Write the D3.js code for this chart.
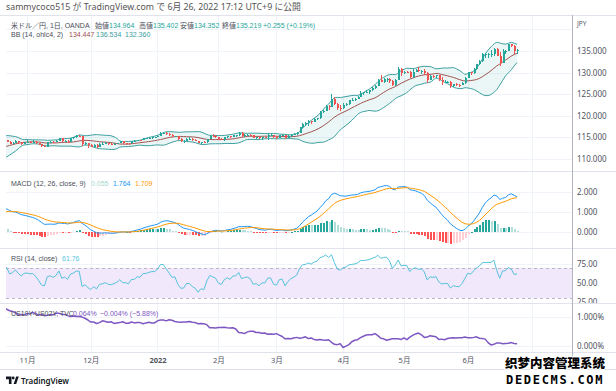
<!DOCTYPE html>
<html><head><meta charset="utf-8">
<script src="https://cdn.jsdelivr.net/npm/d3@7/dist/d3.min.js"></script>
<style>
html,body{margin:0;padding:0;background:#fff;}
svg{display:block;}
text{font-family:'Noto Sans','Noto Sans CJK JP',sans-serif;}
</style></head><body>
<svg id="chart" width="616" height="391"></svg>
<script>
// ---------------- DATA (USD/JPY daily, OANDA) ----------------
const firstDate = "2021-09-01";   // first bar; bars are weekdays
const open = [
 110.02,110.01,109.93,109.71,109.84,110.27,110.24,109.72,109.92,110.02,109.68,109.37,109.72,109.93,109.40,109.22,109.78,110.30,110.74,111.00,111.50,111.96,
 111.29,111.05,110.92,111.43,111.42,111.62,112.21,113.26,113.61,113.27,113.68,114.21,114.36,114.40,114.30,114.04,113.48,113.68,114.16,113.83,113.58,
 113.99,114.03,113.96,114.00,113.75,113.40,112.92,112.84,113.90,114.03,113.87,114.12,114.84,114.08,114.27,114.01,114.83,115.02,115.39,115.36,113.39,113.66,
 113.17,112.79,113.19,112.80,113.46,113.54,113.71,113.48,113.40,113.56,113.72,114.05,113.71,113.70,113.59,114.08,114.09,114.40,114.36,114.82,114.84,114.97,115.08,
 115.08,115.36,116.12,116.12,115.85,115.55,115.22,115.28,114.63,114.18,114.20,114.61,114.62,114.31,114.14,113.68,113.96,113.84,114.67,115.37,115.25,
 115.12,114.60,114.45,114.98,115.26,115.08,115.53,115.54,116.02,115.43,115.59,115.64,115.49,114.91,115.00,114.75,115.05,115.03,115.55,115.57,
 114.98,114.88,115.45,115.50,114.81,115.30,115.65,115.85,116.12,117.29,118.18,118.28,118.70,118.60,119.16,119.45,120.83,121.21,122.31,122.05,123.83,122.84,121.88,
 121.70,122.52,122.76,123.60,123.77,123.94,124.34,125.38,125.40,125.58,125.87,126.42,126.93,128.23,127.88,128.40,128.53,128.12,127.20,128.39,130.84,
 129.84,130.19,130.12,129.09,130.20,130.55,130.27,130.44,129.95,128.35,129.26,129.13,129.37,128.23,127.79,127.87,127.89,126.86,127.32,127.12,127.09,127.62,
 128.69,130.05,129.88,130.87,131.88,132.64,134.25,134.38,134.40,134.40,135.46,133.80,132.20,134.96,135.05,136.62,136.23,134.964
];
const high = [
 110.42,110.11,110.06,109.89,110.34,110.44,110.26,110.09,110.15,110.16,109.75,109.83,110.07,110.00,109.64,109.83,110.40,110.80,111.07,111.68,112.08,112.00,
 111.63,111.16,111.55,111.80,111.71,112.25,113.41,113.80,113.69,113.80,114.22,114.45,114.46,114.69,114.43,114.18,113.97,114.32,114.18,113.86,114.02,
 114.44,114.10,114.28,114.18,113.80,113.58,113.24,114.02,114.14,114.23,114.34,114.96,114.97,114.47,114.31,114.90,115.17,115.52,115.47,115.40,113.89,113.80,
 113.48,113.40,113.36,113.64,113.93,113.93,113.80,113.66,113.69,113.78,114.26,114.25,113.79,113.75,114.21,114.38,114.46,114.48,114.91,114.95,115.02,115.05,115.18,
 115.65,116.35,116.20,116.15,116.02,115.85,115.40,115.32,114.82,114.43,114.79,115.05,114.86,114.60,114.17,114.02,114.11,114.69,115.47,115.68,115.50,
 115.19,114.75,115.13,115.40,115.30,115.59,115.64,116.34,116.18,115.68,115.80,115.68,115.51,115.16,115.08,115.11,115.16,115.70,115.76,115.62,
 115.27,115.56,115.80,115.53,115.47,115.85,116.05,116.21,117.35,118.44,118.45,119.12,118.88,119.40,119.52,121.04,121.41,122.42,122.44,125.10,124.30,123.00,122.44,
 122.99,123.05,123.65,124.05,124.07,124.69,125.77,125.62,125.99,125.96,126.68,127.05,128.45,129.40,128.74,128.85,128.78,128.27,128.53,131.25,131.04,
 130.32,130.40,130.39,130.79,130.79,131.35,130.63,130.80,130.16,129.51,129.52,129.49,129.44,128.95,128.21,128.08,128.00,127.43,127.60,127.26,127.88,128.90,
 130.19,130.22,130.98,131.95,133.01,134.48,134.56,134.62,135.19,135.59,135.59,134.68,135.45,135.22,136.71,136.71,136.32,135.402
];
const low = [
 109.90,109.82,109.59,109.70,109.80,110.03,109.72,109.70,109.83,109.53,109.12,109.11,109.69,109.11,109.20,109.10,109.67,110.23,110.56,110.98,111.46,111.14,
 110.96,110.81,110.86,111.15,111.27,111.56,112.10,113.20,113.14,113.24,113.58,113.99,114.05,114.17,113.85,113.42,113.41,113.64,113.46,113.26,113.40,
 113.89,113.70,113.66,113.56,113.20,112.73,112.72,112.80,113.78,113.78,113.82,114.05,114.03,113.97,113.59,113.90,114.68,114.95,115.11,113.06,113.33,112.55,
 112.71,112.55,112.54,112.75,113.42,113.38,113.34,113.23,113.28,113.38,113.60,113.58,113.14,113.14,113.51,113.89,114.05,114.30,114.35,114.62,114.69,114.69,114.95,
 115.01,115.25,115.69,115.60,115.40,115.12,115.09,114.49,114.00,113.75,114.20,114.41,114.17,114.11,113.64,113.47,113.59,113.78,114.61,115.08,114.90,
 114.49,114.36,114.16,114.75,114.89,115.02,115.19,115.40,115.01,115.02,115.41,115.30,114.82,114.73,114.58,114.51,114.79,114.41,115.26,114.81,
 114.70,114.86,115.30,114.65,114.79,115.12,115.51,115.65,116.03,117.21,117.69,117.71,118.18,118.50,118.96,119.36,120.53,121.07,121.35,121.98,122.42,121.28,121.03,
 121.65,122.38,122.48,123.35,123.47,123.90,124.32,124.80,125.20,124.96,125.74,126.24,126.89,127.72,127.63,127.86,127.60,126.94,126.97,128.32,129.14,
 129.70,129.94,128.79,128.68,130.08,130.11,129.73,129.49,127.52,128.25,128.80,128.82,128.10,127.03,127.48,127.56,126.36,126.55,126.86,126.61,127.04,127.34,
 128.65,129.50,129.74,130.60,131.75,132.40,133.45,133.37,133.58,133.88,133.73,131.50,132.11,134.27,134.91,135.98,134.27,134.352
];
const close = [
 110.01,109.93,109.71,109.84,110.27,110.24,109.72,109.92,110.02,109.68,109.37,109.72,109.93,109.40,109.22,109.78,110.30,110.74,111.00,111.50,111.96,111.29,
 111.05,110.92,111.43,111.42,111.62,112.21,113.26,113.61,113.27,113.68,114.21,114.36,114.40,114.30,114.04,113.48,113.68,114.16,113.83,113.58,113.99,
 114.03,113.96,114.00,113.75,113.40,112.92,112.84,113.90,114.03,113.87,114.12,114.84,114.08,114.27,114.01,114.83,115.02,115.39,115.36,113.39,113.66,113.17,
 112.79,113.19,112.80,113.46,113.54,113.71,113.48,113.40,113.56,113.72,114.05,113.71,113.70,113.59,114.08,114.09,114.40,114.36,114.82,114.84,114.97,115.08,115.08,
 115.36,116.12,116.12,115.85,115.55,115.22,115.28,114.63,114.18,114.20,114.61,114.62,114.31,114.14,113.68,113.96,113.84,114.67,115.37,115.25,115.12,
 114.60,114.45,114.98,115.26,115.08,115.53,115.54,116.02,115.43,115.59,115.64,115.49,114.91,115.00,114.75,115.05,115.03,115.55,115.57,114.98,
 114.88,115.45,115.50,114.81,115.30,115.65,115.85,116.12,117.29,118.18,118.28,118.70,118.60,119.16,119.45,120.83,121.21,122.31,122.05,123.83,122.84,121.88,121.70,
 122.52,122.76,123.60,123.77,123.94,124.34,125.38,125.40,125.58,125.87,126.42,126.93,128.23,127.88,128.40,128.53,128.12,127.20,128.39,130.84,129.84,
 130.19,130.12,129.09,130.20,130.55,130.27,130.44,129.95,128.35,129.26,129.13,129.37,128.23,127.79,127.87,127.89,126.86,127.32,127.12,127.09,127.62,128.69,
 130.05,129.88,130.87,131.88,132.64,134.25,134.38,134.40,134.40,135.46,133.80,132.20,134.96,135.05,136.62,136.23,134.96,135.219
];
// US10Y-US02Y spread (%), TVC, from spreadStart
const spreadStart = "2021-10-20";
const spread = [
 1.27,1.25,1.20,1.17,1.14,1.04,1.07,1.05,
 1.10,1.09,1.14,1.10,1.05,1.07,1.03,1.04,1.06,1.06,1.11,1.11,1.08,1.07,1.03,1.00,1.02,1.00,1.00,0.98,0.94,0.88,
 0.81,0.81,0.76,0.79,0.85,0.83,0.80,0.82,0.76,0.78,0.79,0.82,0.77,0.77,0.81,0.78,0.79,0.79,0.75,0.78,0.80,0.78,0.78,
 0.85,0.88,0.88,0.85,0.89,0.87,0.83,0.81,0.80,0.81,0.81,0.83,0.80,0.79,0.75,0.76,0.75,0.72,0.61,0.61,0.60,
 0.62,0.62,0.63,0.61,0.60,0.61,0.57,0.45,0.44,0.41,0.47,0.49,0.49,0.45,0.45,0.42,0.43,0.39,0.40,0.39,
 0.41,0.36,0.31,0.23,0.24,0.23,0.26,0.28,0.25,0.27,0.30,0.24,0.26,0.21,0.19,0.21,0.19,0.18,0.20,0.11,0.04,0.03,0.06,
 -0.07,-0.02,0.03,0.13,0.18,0.20,0.27,0.32,0.36,0.37,0.37,0.41,0.34,0.25,0.23,0.18,0.21,0.23,0.23,0.23,0.21,
 0.26,0.20,0.29,0.35,0.40,0.43,0.37,0.28,0.29,0.34,0.32,0.30,0.21,0.22,0.20,0.24,0.26,0.27,0.26,0.27,0.27,0.29,
 0.27,0.27,0.28,0.30,0.25,0.24,0.22,0.10,0.02,0.04,0.09,0.09,0.06,0.07,0.08,0.10,0.068,0.064
];
const tickDates  = ["2021-11-01","2021-12-01","2022-01-03","2022-02-01","2022-03-01","2022-04-01","2022-05-02","2022-06-01"];
const tickLabels = ["11月","12月","2022","2月","3月","4月","5月","6月"];
const gridDates  = ["2021-11-01","2021-12-01","2022-01-03","2022-02-01","2022-03-01","2022-04-01","2022-05-02","2022-06-01","2022-07-01"];
const priceTicks = [110,115,120,125,130,135];
const gridPrice  = [110,115,120,125,130,135,140];
const macdTicks  = [0,1,2];
const rsiTicks   = [25,50,75];
const spreadTicks= [0,1];
const bbLen = 14, bbMult = 2, rsiLen = 14;

// ---------------- LAYOUT ----------------
const W = 616, H = 391, L = 6, R = 572;
const P = {price:[15,171], macd:[171,248], rsi:[248,303], spr:[303,352]};
const C = {up:"#26a69a", dn:"#ef5350", grid:"#f0f3fa", sep:"#e0e3eb", txt:"#4a4e59",
  basis:"#a0524f", band:"#3c9e9e", macd:"#2196f3", sig:"#ff9800", rsi:"#55c3dd", spr:"#7e57c2"};

const svg = d3.select("#chart");
svg.append("rect").attr("width",W).attr("height",H).attr("fill","#fff");

// dates (weekdays) incl. future for the axis
const n = close.length;
const dates = [];
{ let d = new Date(firstDate+"T00:00:00Z");
  while (dates.length < n + 15) { const wd = d.getUTCDay(); if (wd!==0 && wd!==6) dates.push(new Date(d)); d.setUTCDate(d.getUTCDate()+1); } }
const iso = d => d.toISOString().slice(0,10);
const idxOf = s => dates.findIndex(d => iso(d) === s);
const iNov = idxOf("2021-11-01");
const x = d3.scaleLinear().domain([iNov, n-1]).range([27, 27 + (n-1-iNov)*2.9]);

const yP = d3.scaleLinear().domain([107.22,143.33]).range([P.price[1],P.price[0]]);
const yM = d3.scaleLinear().domain([-0.8,3.05]).range([P.macd[1],P.macd[0]]);
const yR = d3.scaleLinear().domain([23.68,96.05]).range([P.rsi[1],P.rsi[0]]);
const yS = d3.scaleLinear().domain([-0.224,1.466]).range([P.spr[1],P.spr[0]]);

// ---------------- INDICATORS ----------------
const ohlc4 = close.map((c,i)=>(open[i]+high[i]+low[i]+c)/4);
const basis=[], upper=[], lower=[];
for (let i=0;i<n;i++){
  if (i<bbLen-1){basis.push(null);upper.push(null);lower.push(null);continue;}
  const w = ohlc4.slice(i-bbLen+1,i+1), m = d3.mean(w), sd = Math.sqrt(d3.mean(w,v=>(v-m)*(v-m)));
  basis.push(m); upper.push(m+bbMult*sd); lower.push(m-bbMult*sd);
}
function ema(src,len){ const a=2/(len+1), out=[]; let prev=null,cnt=0,sum=0;
  for (const v of src){ if (v==null){out.push(null);continue;}
    if (prev==null){ sum+=v; cnt++; if (cnt===len){prev=sum/len;out.push(prev);} else out.push(null); }
    else { prev=a*v+(1-a)*prev; out.push(prev); } }
  return out; }
const e12=ema(close,12), e26=ema(close,26);
const macd = close.map((_,i)=> (e12[i]!=null&&e26[i]!=null)? e12[i]-e26[i] : null);
const signal = ema(macd,9);
const hist = macd.map((m,i)=> (m!=null&&signal[i]!=null)? m-signal[i] : null);
const rsi = [null]; { let au=0,ad=0;
  for (let i=1;i<n;i++){ const ch=close[i]-close[i-1], u=Math.max(ch,0), dn=Math.max(-ch,0);
    if (i<=rsiLen){ au+=u; ad+=dn; if (i===rsiLen){au/=rsiLen;ad/=rsiLen; rsi.push(100-100/(1+au/ad));} else rsi.push(null); }
    else { au=(au*(rsiLen-1)+u)/rsiLen; ad=(ad*(rsiLen-1)+dn)/rsiLen; rsi.push(100-100/(1+au/ad)); } } }
const sStart = idxOf(spreadStart);
const sprIdx = spread.map((_,k)=>sStart+k);

// ---------------- CLIPS ----------------
const defs = svg.append("defs");
Object.entries(P).forEach(([k,[a,b]])=>{
  defs.append("clipPath").attr("id","clip-"+k).append("rect").attr("x",L).attr("y",a+0.5).attr("width",R-L).attr("height",b-a-0.5);
});
defs.append("clipPath").attr("id","clip-rsiax").append("rect").attr("x",R).attr("y",P.rsi[0]).attr("width",W-R).attr("height",P.rsi[1]-P.rsi[0]);

// ---------------- GRID ----------------
const grid = svg.append("g").attr("shape-rendering","crispEdges");
gridDates.forEach(t=>{ const xx=Math.round(x(idxOf(t)))+0.5;
  grid.append("line").attr("x1",xx).attr("x2",xx).attr("y1",15).attr("y2",352).attr("stroke",C.grid); });
const hgrid=(vals,sc)=>vals.forEach(v=>{ const yy=Math.round(sc(v))+0.5;
  grid.append("line").attr("x1",L).attr("x2",R).attr("y1",yy).attr("y2",yy).attr("stroke",C.grid); });
hgrid(gridPrice,yP); hgrid(macdTicks,yM); hgrid([50,75],yR); hgrid(spreadTicks,yS);

// ---------------- PRICE PANE ----------------
const gp = svg.append("g").attr("clip-path","url(#clip-price)");
const vis = d3.range(n).filter(i=>x(i)>L-4);
gp.append("path").datum(vis.filter(i=>upper[i]!=null))
  .attr("d", d3.area().x(i=>x(i)).y0(i=>yP(lower[i])).y1(i=>yP(upper[i])).curve(d3.curveMonotoneX))
  .attr("fill","rgba(38,166,154,0.09)");
[[upper,C.band],[lower,C.band],[basis,C.basis]].forEach(([arr,col])=>{
  gp.append("path").datum(vis.filter(i=>arr[i]!=null))
    .attr("d", d3.line().x(i=>x(i)).y(i=>yP(arr[i])).curve(d3.curveMonotoneX))
    .attr("fill","none").attr("stroke",col).attr("stroke-width",1);
});
const cg = gp.append("g").attr("shape-rendering","crispEdges");
vis.forEach(i=>{
  const col = close[i]>=open[i]?C.up:C.dn, xc=Math.round(x(i));
  cg.append("line").attr("x1",xc+0.5).attr("x2",xc+0.5).attr("y1",yP(high[i])).attr("y2",yP(low[i])).attr("stroke",col);
  const y1=yP(Math.max(open[i],close[i])), y2=yP(Math.min(open[i],close[i]));
  cg.append("rect").attr("x",xc-0.5).attr("y",y1).attr("width",2).attr("height",Math.max(1,y2-y1)).attr("fill",col);
});

// ---------------- MACD PANE ----------------
const gm = svg.append("g").attr("clip-path","url(#clip-macd)");
const hg = gm.append("g").attr("shape-rendering","crispEdges");
vis.forEach(i=>{ const h=hist[i]; if(h==null) return; const prev=hist[i-1]??h;
  const col = h>=0 ? (prev<h?"#26a69a":"#b2dfdb") : (prev<h?"#ffcdd2":"#ff5252");
  const y0=yM(0), y1=yM(h); const xc=Math.round(x(i));
  hg.append("rect").attr("x",xc-0.5).attr("y",Math.min(y0,y1)).attr("width",2).attr("height",Math.max(0.8,Math.abs(y1-y0))).attr("fill",col);
});
[[macd,C.macd],[signal,C.sig]].forEach(([arr,col])=>{
  gm.append("path").datum(vis.filter(i=>arr[i]!=null))
    .attr("d", d3.line().x(i=>x(i)).y(i=>yM(arr[i])))
    .attr("fill","none").attr("stroke",col).attr("stroke-width",1);
});

// ---------------- RSI PANE ----------------
const gr = svg.append("g").attr("clip-path","url(#clip-rsi)");
gr.append("rect").attr("x",L).attr("width",R-L).attr("y",yR(70)).attr("height",yR(30)-yR(70)).attr("fill","#f2e8fb");
[70,30].forEach(v=>gr.append("line").attr("x1",L).attr("x2",R).attr("y1",Math.round(yR(v))+0.5).attr("y2",Math.round(yR(v))+0.5)
  .attr("stroke","#b9b7c6").attr("stroke-dasharray","3,3"));
gr.append("path").datum(vis.filter(i=>rsi[i]!=null))
  .attr("d", d3.line().x(i=>x(i)).y(i=>yR(rsi[i])))
  .attr("fill","none").attr("stroke",C.rsi).attr("stroke-width",1);

// ---------------- SPREAD PANE ----------------
const gs = svg.append("g").attr("clip-path","url(#clip-spr)");
gs.append("path").datum(spread)
  .attr("d", d3.line().x((v,k)=>x(sprIdx[k])).y(v=>yS(v)))
  .attr("fill","none").attr("stroke",C.spr).attr("stroke-width",1.5).attr("stroke-linejoin","round");

// ---------------- SEPARATORS / FRAME ----------------
const fr = svg.append("g").attr("shape-rendering","crispEdges");
[15,171,248,303,352,369].forEach(v=>fr.append("line").attr("x1",0).attr("x2",W).attr("y1",v+0.5).attr("y2",v+0.5).attr("stroke",C.sep));
fr.append("line").attr("x1",R+0.5).attr("x2",R+0.5).attr("y1",15).attr("y2",369).attr("stroke","#b2b5be");

// ---------------- AXES ----------------
function styleAx(g){ g.select(".domain").remove();
  g.selectAll("text").attr("fill","#50535e").style("font-size","8px").style("font-family","'Noto Sans',sans-serif"); }
function rAxis(sc,vals,fmt){
  const g = svg.append("g").attr("transform",`translate(${R},0)`)
    .call(d3.axisRight(sc).tickValues(vals).tickFormat(fmt).tickSize(0).tickPadding(5));
  styleAx(g); return g;
}
rAxis(yP,priceTicks,d3.format(".3f"));
rAxis(yM,macdTicks,d3.format(".3f"));
{ const g = svg.append("g").attr("clip-path","url(#clip-rsiax)").append("g").attr("transform",`translate(${R},0)`)
    .call(d3.axisRight(yR).tickValues(rsiTicks).tickFormat(d3.format(".2f")).tickSize(0).tickPadding(5));
  styleAx(g); }
rAxis(yS,spreadTicks,d=>d3.format(".3f")(d)+"%");
svg.append("text").attr("x",577).attr("y",26).attr("fill","#50535e").style("font-size","6.5px").text("JPY");

const xa = svg.append("g").attr("transform","translate(0,352)")
  .call(d3.axisBottom(x).tickValues(tickDates.map(idxOf)).tickFormat((d,k)=>tickLabels[k]).tickSize(0).tickPadding(6));
xa.select(".domain").remove();
xa.selectAll("text").attr("fill","#50535e").style("font-size","7.5px")
  .style("font-weight",(d,k)=>tickLabels[k]==="2022"?"700":"400");

// ---------------- TEXT ----------------
svg.append("text").attr("x",6).attr("y",10).attr("fill","#555").style("font-size","8.8px")
  .text("sammycoco515 が TradingView.com で 6月 26, 2022 17:12 UTC+9 に公開");
function leg(xx,yy,parts){ const t=svg.append("text").attr("x",xx).attr("y",yy)
    .style("font-size","7px").style("font-family","'Liberation Sans','Noto Sans CJK JP',sans-serif");
  parts.forEach(([s,c])=>t.append("tspan").attr("fill",c).text(s)); }
leg(11,28,[["米ドル／円, 1日, OANDA",C.txt]]);
leg(95,28,[["始値",C.txt],["134.964",C.up]]);
leg(139,28,[["高値",C.txt],["135.402",C.up]]);
leg(180,28,[["安値",C.txt],["134.352",C.up]]);
leg(222,28,[["終値",C.txt],["135.219",C.up]]);
leg(263,28,[["+0.255 (+0.19%)",C.up]]);
leg(11,37,[["BB (14, ohlc4, 2)",C.txt]]);
leg(69,37,[["134.447",C.basis]]);
leg(96,37,[["136.534",C.band]]);
leg(125,37,[["132.360",C.band]]);
leg(11,186,[["MACD (12, 26, close, 9)",C.txt]]);
leg(91,186,[["0.055","#a6d8cf"]]);
leg(113,186,[["1.764",C.macd]]);
leg(135,186,[["1.709",C.sig]]);
leg(11,261,[["RSI (14, close)",C.txt]]);
leg(62,261,[["61.76",C.rsi]]);
leg(11,316,[["US10Y-US02Y, TVC",C.txt]]);
leg(73,316,[["0.064%",C.spr]]);
leg(100,316,[["−0.004% (−5.88%)",C.spr]]);

// TradingView logo + name
const lg = svg.append("g").attr("fill","#131722");
lg.append("path").attr("d","M6,376.5 h5.5 v7.5 h-2.6 v-4.8 h-2.9 z");
lg.append("circle").attr("cx",13.2).attr("cy",378).attr("r",1.4);
lg.append("path").attr("d","M13.6,384 l2.6,-7.5 h2.6 l-2.6,7.5 z");
svg.append("text").attr("x",21).attr("y",383.5).attr("fill","#131722").style("font-size","8px").style("font-weight","600").text("TradingView");

// watermark
svg.append("text").attr("x",505).attr("y",368).attr("fill","#000").attr("stroke","#fff").attr("stroke-width",2).attr("paint-order","stroke")
  .style("font-family","'Noto Sans CJK SC'").style("font-size","12.5px").style("font-weight","900").text("织梦内容管理系统");
svg.append("text").attr("x",506).attr("y",384).attr("fill","#000").attr("stroke","#fff").attr("stroke-width",2).attr("paint-order","stroke")
  .style("font-family","'DejaVu Sans Mono'").style("font-size","12px").style("font-weight","700").style("letter-spacing","1.7px").text("DEDECMS.COM");
</script>
</body></html>
